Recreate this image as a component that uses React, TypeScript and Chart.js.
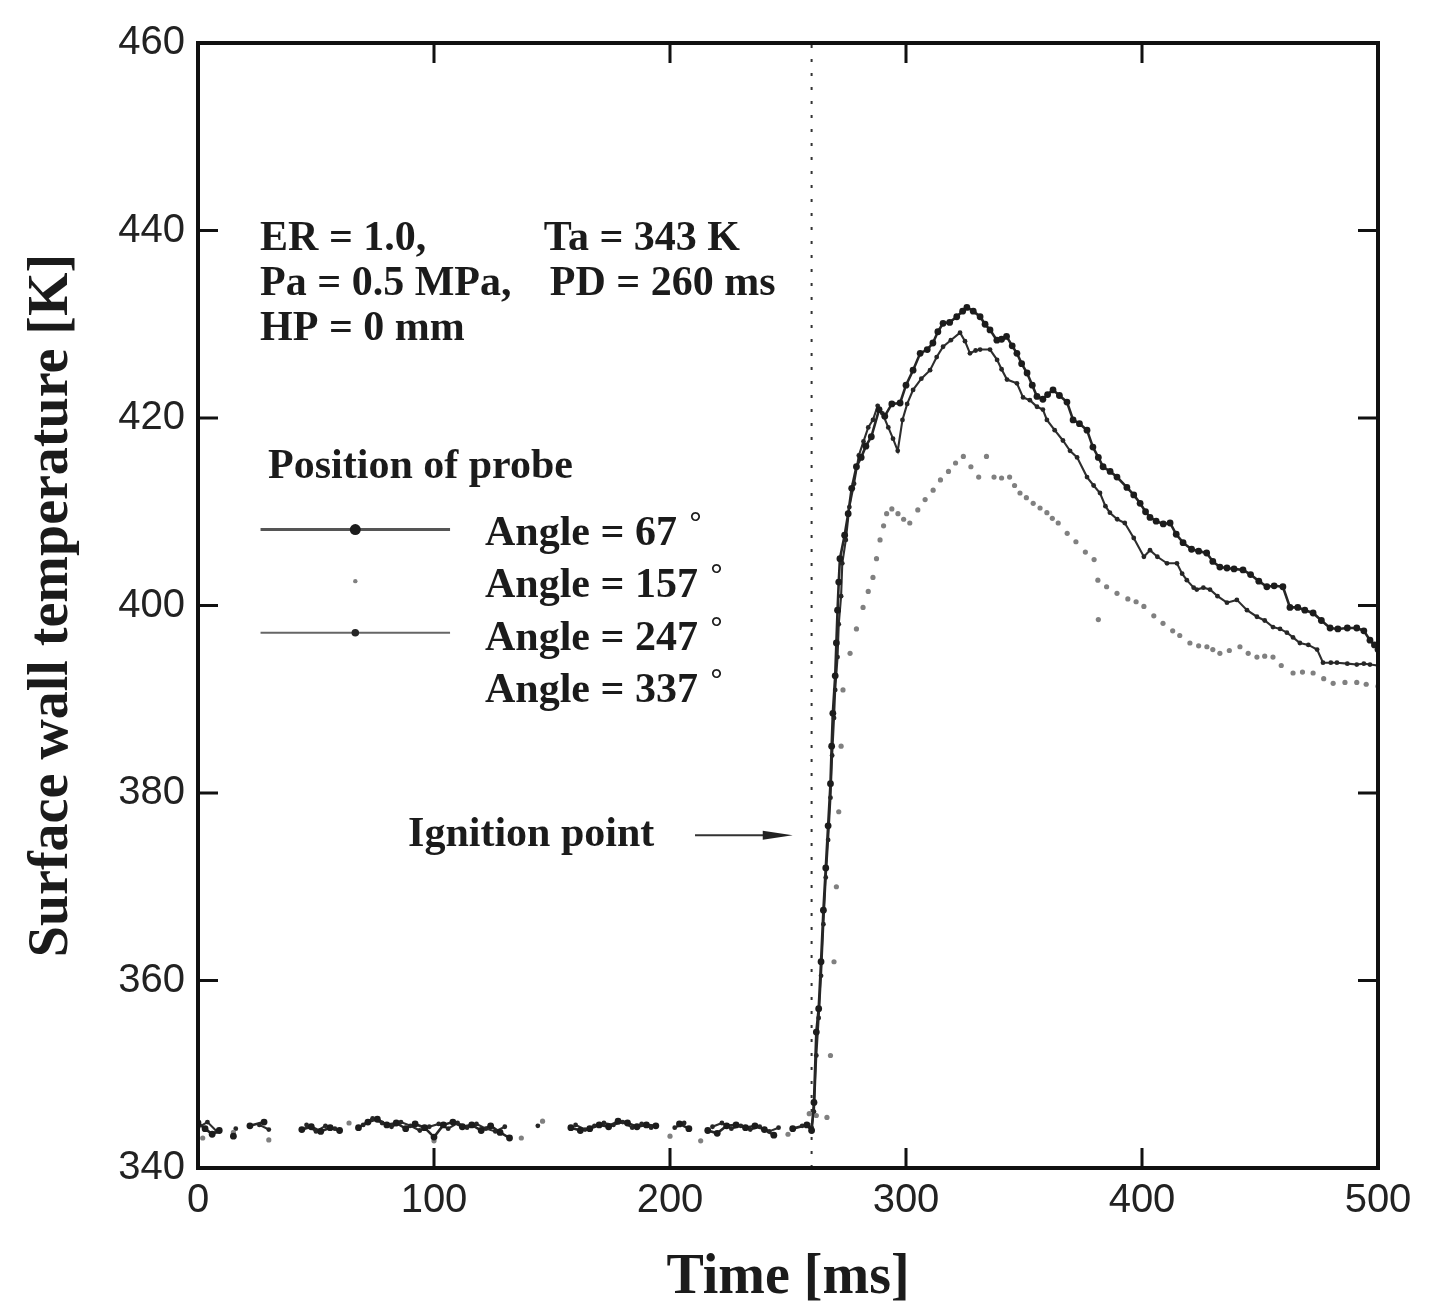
import React, { useEffect, useRef } from 'react';
import { Chart, registerables } from 'chart.js';

Chart.register(...registerables);

// ---------- data ----------
const X_TICKS = [0, 100, 200, 300, 400, 500];
const Y_TICKS = [340, 360, 380, 400, 420, 440, 460];
const X_TITLE = 'Time [ms]';
const Y_TITLE = 'Surface wall temperature [K]';
const SERIES_LABELS = ['Angle = 67 °', 'Angle = 157 °', 'Angle = 247 °', 'Angle = 337 °'];
const IGNITION_TIME = 260;
const CONDITION_LINES = [
  ['ER = 1.0,', 'Ta = 343 K'],
  ['Pa = 0.5 MPa,', 'PD = 260 ms'],
  ['HP = 0 mm', ''],
];
const LEGEND_TITLE = 'Position of probe';
const IGNITION_LABEL = 'Ignition point';

// [time ms, temperature K]
const angle67: [number, number | null][] = [
  [0, 344.8], [3, 344.2], [6, 343.6], [9, 344.0], [12, null], [15, 343.4], [18, null], [22, 344.5], [28, 344.9], [36, null],
  [44, 344.1], [48, 344.4], [52, 343.9], [56, 344.3], [60, 344.0], [64, null], [68, 344.3], [72, 344.9], [76, 345.2], [80, 344.6],
  [84, 344.8], [88, 344.2], [92, 344.7], [96, 344.3], [100, 343.3], [104, 344.6], [108, 344.9], [112, 344.4], [116, 344.6], [120, 344.0],
  [124, 344.5], [128, 343.8], [132, 343.2], [140, null], [158, 344.3], [162, 344.0], [166, 344.2], [170, 344.6], [174, 344.4], [178, 345.0],
  [182, 344.8], [186, 344.4], [190, 344.6], [194, 344.5], [198, null], [204, 344.7], [208, 344.2], [212, null], [216, 344.0], [220, 343.7],
  [224, 344.5], [228, 344.6], [232, 344.3], [236, 344.5], [240, 344.1], [244, 343.5], [248, null], [252, 344.2], [258, 344.6], [260, 344.0],
  [261, 347.0], [262, 354.5], [263, 357.0], [264, 362.0], [265, 367.5], [266, 372.0], [267, 376.5], [268, 381.0], [268.5, 385.0], [269, 388.5],
  [270, 392.5], [270.5, 396.0], [271, 399.5], [271.5, 402.5], [272, 405.0], [274, 407.5], [275.5, 409.8], [277, 412.5], [279, 414.8], [281, 415.8],
  [283, 417.0], [285.3, 418.0], [288.6, 420.9], [291, 420.2], [294, 421.5], [297.5, 421.6], [300, 423.5], [303, 425.1], [306, 426.9], [309, 427.3],
  [311.4, 428.0], [313.5, 429.2], [315.7, 430.1], [318.5, 430.2], [321.5, 430.8], [324, 431.4], [325.8, 431.8], [328.5, 431.4], [331.4, 430.8], [333.5, 430.0],
  [335.6, 429.4], [338.5, 428.3], [340.5, 428.4], [342.6, 428.7], [345, 427.7], [347, 426.9], [349, 425.8], [351.3, 424.8], [353.5, 423.5], [355.5, 422.3],
  [358, 422.0], [360, 422.5], [362.3, 423.0], [365, 422.4], [368.2, 421.7], [370.8, 419.8], [373.5, 419.4], [376.7, 418.7], [379.2, 416.9], [381.5, 415.8],
  [383.5, 414.8], [386.5, 414.3], [389.4, 413.7], [393.6, 412.6], [396.5, 411.8], [399.2, 410.9], [401.5, 410.0], [403.4, 409.4], [406, 409.0], [409, 408.7],
  [411.9, 408.8], [414.5, 407.6], [417.4, 406.7], [421, 406.0], [424, 405.8], [427.4, 405.6], [430, 404.7], [433, 404.1], [436, 404.0], [439, 403.9],
  [442.8, 403.8], [446, 403.3], [449.5, 402.6], [452.9, 402.0], [456, 402.1], [459.7, 402.0], [462.7, 399.8], [466, 399.8], [469, 399.5], [472.5, 399.2],
  [476, 398.4], [479.7, 397.6], [483, 397.5], [487, 397.6], [491, 397.6], [494, 397.3], [496.6, 396.3], [498.5, 395.8], [500, 395.3],
];

const angle157: [number, number][] = [
  [2, 343.2], [15, 343.8], [30, 343.0], [64, 344.8], [100, 342.9], [137, 343.2], [146, 345.0], [200, 343.4], [213, 342.9], [250, 343.6],
  [259, 345.8], [262, 345.6], [266.5, 345.4], [268, 352], [269.5, 362], [270.5, 370], [271.5, 378], [272.5, 385], [273.3, 391], [276.3, 394.9],
  [279, 397.5], [281.8, 399.8], [284, 401.5], [286, 403], [287.5, 405], [289, 407], [290.5, 408.5], [291.8, 409.8], [294, 410.3], [296.6, 409.8],
  [299, 409.2], [301.6, 408.8], [305, 410.2], [308.1, 411.3], [311.5, 412.3], [314.6, 413.4], [318, 414.3], [321, 415.2], [324.3, 415.9], [327.5, 414.8],
  [330.8, 413.7], [334.1, 415.9], [337.3, 413.7], [340.5, 413.6], [343.9, 413.7], [346, 412.8], [348.3, 412.0], [351, 411.5], [353.9, 410.9], [356.8, 410.4],
  [359.7, 409.9], [362, 409.3], [364.5, 408.8], [368.3, 407.7], [372, 406.8], [376, 405.7], [379.7, 404.9], [381.3, 402.7], [381.5, 398.5], [385, 402.0],
  [389.4, 401.3], [394, 400.7], [397.5, 400.4], [400.8, 399.9], [405, 398.9], [408.9, 398.1], [413, 397.3], [416, 396.8], [420.3, 396.0], [424, 395.7],
  [427.5, 395.6], [430, 395.3], [433, 394.9], [437, 395.2], [441.5, 395.6], [445, 394.9], [448.7, 394.5], [452, 394.6], [455.5, 394.5], [459, 393.6],
  [464, 392.8], [468, 392.9], [472.5, 392.8], [477, 392.2], [481, 391.7], [486, 391.8], [491, 391.8], [495, 391.6], [500, 391.4],
];

const angle247: [number, number | null][] = [
  [0, 344.3], [4, 344.9], [8, 343.9], [12, null], [16, 344.2], [20, null], [26, 344.6], [30, 344.1], [36, null], [46, 344.6],
  [50, 343.9], [54, 344.5], [58, 344.2], [62, null], [70, 344.6], [74, 345.3], [78, 344.8], [82, 344.4], [86, 344.9], [90, 344.5],
  [94, 344.0], [98, 344.4], [102, 344.7], [106, 344.2], [110, 344.8], [114, 344.3], [118, 344.7], [122, 344.2], [126, 343.9], [130, 344.4],
  [136, null], [144, 344.5], [148, null], [160, 344.6], [164, 344.1], [168, 344.5], [172, 344.8], [176, 344.6], [180, 344.9], [184, 344.3],
  [188, 344.7], [192, 344.3], [196, null], [202, 344.3], [206, 344.8], [210, null], [218, 344.4], [222, 344.8], [226, 344.2], [230, 344.5],
  [234, 344.1], [238, 344.4], [242, 343.9], [246, 344.3], [250, null], [256, 344.5], [260, 344.3],
  [261, 346.0], [262, 352.0], [263, 356.0], [264, 360.5], [265, 366.0], [266, 371.0], [267, 375.0], [268, 379.5], [268.7, 384.0], [269.5, 388.0],
  [270, 391.0], [271, 394.5], [271.5, 398.0], [272.5, 401.0], [273, 404.5], [274.5, 407.0], [276, 410.5], [278, 413.0], [280, 416.0], [282, 417.5],
  [284, 419.0], [286, 419.8], [288, 421.3], [290, 420.5], [292.5, 419.0], [294.5, 417.8], [296.5, 416.5], [298.5, 419.8], [300.5, 421.5], [303, 423.0],
  [306.5, 424.2], [310.2, 425.1], [313, 426.5], [315.7, 427.6], [319, 428.3], [322.9, 429.1], [325, 428.2], [327.1, 426.9], [329.5, 427.2], [331.4, 427.3],
  [335.6, 427.3], [338.6, 426.2], [340.5, 425.2], [342.8, 424.1], [347, 423.7], [349.6, 422.2], [352.5, 421.9], [355.5, 421.2], [358, 420.9], [359.7, 419.8],
  [363, 418.7], [366.5, 417.6], [369.5, 416.5], [372.5, 415.8], [376.7, 413.7], [379.5, 412.8], [382.2, 412.0], [384.5, 410.6], [386.4, 409.9], [389.5, 409.2],
  [392.7, 408.8], [396.5, 407.2], [400.8, 405.2], [403.4, 405.9], [406.5, 405.2], [410.6, 404.5], [414.8, 404.5], [417, 403.4], [419, 402.7], [421.9, 401.9],
  [423.2, 401.7], [426, 401.9], [428.8, 401.7], [432, 401.0], [436, 400.3], [440.2, 400.6], [444.5, 399.5], [448.7, 398.8], [452, 398.4], [455.5, 397.7],
  [458.5, 397.5], [461.4, 397.1], [464, 396.6], [466.9, 396.0], [470.5, 395.8], [474.2, 395.3], [476.7, 393.9], [480, 393.9], [482.6, 393.9], [487, 393.8],
  [491, 393.7], [494, 393.8], [496.6, 393.7], [500, 393.6],
];

const angle337: [number, number][] = [];

const ignitionLine: [number, number][] = [[IGNITION_TIME, 340], [IGNITION_TIME, 460]];

// ---------- styles / layout ----------
const SERIF_FAMILY = '"Liberation Serif", "Times New Roman", serif';
const SERIF_BOLD = `bold 42px ${SERIF_FAMILY}`;
const DEGREE_FONT = `bold 30px ${SERIF_FAMILY}`;
const TEXT_COLOR = '#1b1b1b';
const TICK_LEN = 20;

// annotation anchors (in data units)
const COND_X = [26.3, 146.5];
const COND_Y = [437.9, 433.1, 428.3];
const LEGEND_TITLE_POS = { x: 29.7, y: 413.6 };
const LEGEND_TEXT_X = 121.6;
const LEGEND_TEXT_Y = [406.5, 400.9, 395.3, 389.7];
const LEGEND_SAMPLE_Y = [408.1, 402.6, 397.1, 391.6];
const LEGEND_SAMPLE_X = [26.5, 106.8];
const IGNITION_LABEL_POS = { x: 89, y: 374.3 };
const ARROW = { x1: 210.6, x2: 252, y: 375.5 };

const toXY = (arr: [number, number | null][]) => arr.map(([x, y]) => ({ x, y }));

const overlayPlugin = {
  id: 'overlay',
  afterDraw(chart: any) {
    const { ctx, chartArea: ca, scales } = chart;
    const xs = scales.x;
    const ys = scales.y;
    const px = (v: number) => xs.getPixelForValue(v);
    const py = (v: number) => ys.getPixelForValue(v);
    ctx.save();

    // frame
    ctx.strokeStyle = '#111';
    ctx.lineWidth = 4;
    ctx.strokeRect(ca.left, ca.top, ca.right - ca.left, ca.bottom - ca.top);

    // inward ticks on all four sides
    ctx.lineWidth = 3;
    ctx.beginPath();
    X_TICKS.forEach((v) => {
      const p = px(v);
      ctx.moveTo(p, ca.bottom);
      ctx.lineTo(p, ca.bottom - TICK_LEN);
      ctx.moveTo(p, ca.top);
      ctx.lineTo(p, ca.top + TICK_LEN);
    });
    Y_TICKS.forEach((v) => {
      const p = py(v);
      ctx.moveTo(ca.left, p);
      ctx.lineTo(ca.left + TICK_LEN, p);
      ctx.moveTo(ca.right, p);
      ctx.lineTo(ca.right - TICK_LEN, p);
    });
    ctx.stroke();

    // condition text
    ctx.font = SERIF_BOLD;
    ctx.fillStyle = TEXT_COLOR;
    ctx.textAlign = 'left';
    ctx.textBaseline = 'alphabetic';
    CONDITION_LINES.forEach((row, i) => {
      row.forEach((txt, j) => {
        if (txt) ctx.fillText(txt, px(COND_X[j]) + (j === 1 && i === 1 ? 6 : 0), py(COND_Y[i]));
      });
    });

    // legend
    ctx.fillText(LEGEND_TITLE, px(LEGEND_TITLE_POS.x), py(LEGEND_TITLE_POS.y));
    const dsets = chart.data.datasets.filter((d: any) => d.inLegend);
    dsets.forEach((d: any, i: number) => {
      const yy = py(LEGEND_SAMPLE_Y[i]);
      const xa = px(LEGEND_SAMPLE_X[0]);
      const xb = px(LEGEND_SAMPLE_X[1]);
      if (d.showLine !== false && d.borderWidth > 0) {
        ctx.strokeStyle = d.legendLineColor || d.borderColor;
        ctx.lineWidth = d.legendLineWidth || d.borderWidth;
        ctx.beginPath();
        ctx.moveTo(xa, yy);
        ctx.lineTo(xb, yy);
        ctx.stroke();
      }
      if (d.legendDot > 0) {
        ctx.fillStyle = d.pointBackgroundColor;
        ctx.beginPath();
        ctx.arc((xa + xb) / 2, yy, d.legendDot, 0, Math.PI * 2);
        ctx.fill();
      }
      ctx.fillStyle = TEXT_COLOR;
      const label: string = d.label;
      const deg = label.endsWith('°');
      const main = deg ? label.slice(0, -1) : label;
      const tx = px(LEGEND_TEXT_X);
      const ty = py(LEGEND_TEXT_Y[i]);
      ctx.font = SERIF_BOLD;
      ctx.fillText(main, tx, ty);
      if (deg) {
        const w = ctx.measureText(main).width;
        ctx.font = DEGREE_FONT;
        ctx.fillText('°', tx + w + 2, ty - 13);
        ctx.font = SERIF_BOLD;
      }
    });

    // ignition label + arrow
    ctx.fillText(IGNITION_LABEL, px(IGNITION_LABEL_POS.x), py(IGNITION_LABEL_POS.y));
    const ay = py(ARROW.y);
    const ax1 = px(ARROW.x1);
    const ax2 = px(ARROW.x2);
    ctx.strokeStyle = '#333';
    ctx.lineWidth = 2;
    ctx.beginPath();
    ctx.moveTo(ax1, ay);
    ctx.lineTo(ax2 - 20, ay);
    ctx.stroke();
    ctx.fillStyle = '#222';
    ctx.beginPath();
    ctx.moveTo(ax2, ay);
    ctx.lineTo(ax2 - 30, ay - 4.5);
    ctx.lineTo(ax2 - 30, ay + 4.5);
    ctx.closePath();
    ctx.fill();

    ctx.restore();
  },
};

export default function App() {
  const canvasRef = useRef<HTMLCanvasElement | null>(null);

  useEffect(() => {
    if (!canvasRef.current) return;
    const chart = new Chart(canvasRef.current, {
      type: 'scatter',
      data: {
        datasets: [
          {
            label: SERIES_LABELS[0],
            data: toXY(angle67),
            showLine: true,
            spanGaps: false,
            borderColor: '#262626',
            borderWidth: 2.6,
            pointRadius: 3.4,
            pointBackgroundColor: '#1c1c1c',
            pointBorderWidth: 0,
            inLegend: true,
            legendDot: 5.5,
            legendLineWidth: 3,
            legendLineColor: '#555',
          } as any,
          {
            label: SERIES_LABELS[1],
            data: toXY(angle157),
            showLine: false,
            borderColor: '#8c8c8c',
            borderWidth: 0,
            pointRadius: 2.6,
            pointBackgroundColor: '#808080',
            pointBorderWidth: 0,
            inLegend: true,
            legendDot: 2.2,
          } as any,
          {
            label: SERIES_LABELS[2],
            data: toXY(angle247),
            showLine: true,
            spanGaps: false,
            borderColor: '#2e2e2e',
            borderWidth: 2.1,
            pointRadius: 2.4,
            pointBackgroundColor: '#262626',
            pointBorderWidth: 0,
            inLegend: true,
            legendDot: 3.8,
            legendLineWidth: 2,
            legendLineColor: '#666',
          } as any,
          {
            label: SERIES_LABELS[3],
            data: toXY(angle337),
            showLine: false,
            borderColor: 'rgba(0,0,0,0)',
            borderWidth: 0,
            pointRadius: 0,
            pointBackgroundColor: 'rgba(0,0,0,0)',
            inLegend: true,
            legendDot: 0,
          } as any,
          {
            label: 'ignition',
            data: toXY(ignitionLine),
            showLine: true,
            borderColor: '#333',
            borderWidth: 2,
            borderDash: [3, 11],
            pointRadius: 0,
            inLegend: false,
          } as any,
        ],
      },
      options: {
        animation: false,
        responsive: false,
        maintainAspectRatio: false,
        layout: { padding: { left: 0, top: 43, right: 64, bottom: 0 } },
        plugins: { legend: { display: false }, tooltip: { enabled: false } },
        scales: {
          x: {
            type: 'linear',
            min: 0,
            max: 500,
            afterBuildTicks: (s: any) => {
              s.ticks = X_TICKS.map((v) => ({ value: v }));
            },
            afterFit: (s: any) => {
              s.height = 140;
            },
            grid: { display: false, drawTicks: false },
            border: { display: false },
            ticks: {
              padding: 9,
              color: '#222',
              font: { family: '"Liberation Sans", Arial, sans-serif', size: 40 },
              maxRotation: 0,
            },
            title: {
              display: true,
              text: X_TITLE,
              color: '#1b1b1b',
              font: { family: SERIF_FAMILY, size: 56, weight: 'bold', lineHeight: 1.05 },
              padding: { top: 0, bottom: 0 },
            },
          },
          y: {
            type: 'linear',
            min: 340,
            max: 460,
            afterBuildTicks: (s: any) => {
              s.ticks = Y_TICKS.map((v) => ({ value: v }));
            },
            afterFit: (s: any) => {
              s.width = 198;
            },
            grid: { display: false, drawTicks: false },
            border: { display: false },
            ticks: {
              padding: 13,
              color: '#222',
              font: { family: '"Liberation Sans", Arial, sans-serif', size: 40 },
            },
            title: {
              display: true,
              text: Y_TITLE,
              color: '#1b1b1b',
              font: { family: SERIF_FAMILY, size: 56, weight: 'bold', lineHeight: 1.2 },
              padding: { top: 19, bottom: 0 },
            },
          },
        },
      },
      plugins: [overlayPlugin],
    });
    return () => chart.destroy();
  }, []);

  return (
    <div style={{ position: 'fixed', left: 0, top: 0, width: 1442, height: 1308, background: '#fff' }}>
      <canvas ref={canvasRef} width={1442} height={1308} style={{ width: 1442, height: 1308, display: 'block' }} />
    </div>
  );
}
